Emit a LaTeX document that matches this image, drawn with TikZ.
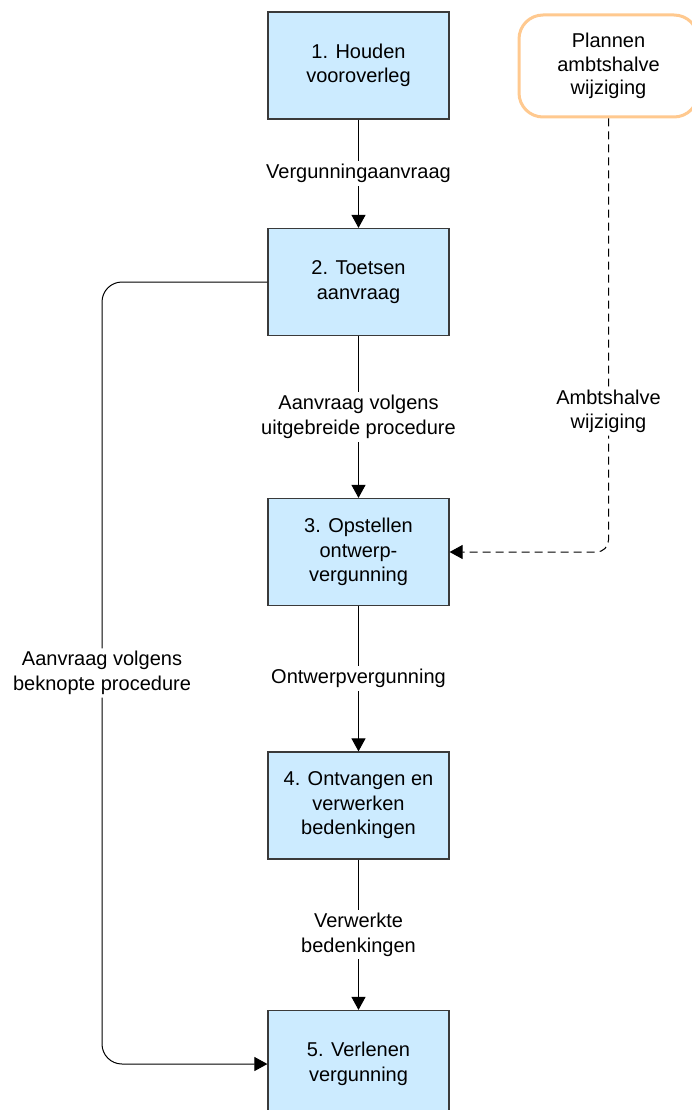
\documentclass[tikz,border=0pt]{standalone}
\usepackage{fontspec}
\setmainfont{Liberation Sans}
\usetikzlibrary{arrows.meta}
\definecolor{stepfill}{HTML}{CCEBFF}
\definecolor{stepline}{HTML}{3A3A3A}
\definecolor{planline}{HTML}{FFC98F}
\tikzset{
  stepbox/.style={draw=stepline, line width=1.2pt, fill=stepfill,
    minimum width=181pt, minimum height=107pt, align=center,
    font=\fontsize{20}{24.5}\selectfont, inner sep=2pt},
  planbox/.style={draw=planline, line width=3pt, fill=white,
    rounded corners=24pt, minimum width=179pt, minimum height=102pt,
    align=center, font=\fontsize{20}{23.5}\selectfont, inner sep=2pt},
  conn/.style={draw=black, line width=1pt,
    -{Triangle[length=13pt,width=14pt]}},
  dashconn/.style={conn, dash pattern=on 8pt off 5pt},
  lbl/.style={fill=white, align=center, inner sep=3pt,
    font=\fontsize{20}{24.5}\selectfont, text=black},
}
\begin{document}
\begin{tikzpicture}[x=1pt,y=-1pt]
  \useasboundingbox (0,0) rectangle (691,1110);

  % process steps
  \node[stepbox] (b1) at (358.5,65.5) {1. Houden\\vooroverleg};
  \node[stepbox] (b2) at (358.5,282) {2. Toetsen\\aanvraag};
  \node[stepbox] (b3) at (358.5,552) {3. Opstellen\\ontwerp-\\vergunning};
  \node[stepbox] (b4) at (358.5,805.5) {4. Ontvangen en\\verwerken\\bedenkingen};
  \node[stepbox] (b5) at (358.5,1064) {5. Verlenen\\vergunning};

  % trigger for an ex officio change
  \node[planbox] (pl) at (608.5,66) {Plannen\\ambtshalve\\wijziging};

  % main flow
  \draw[conn] (b1) -- node[lbl] {Vergunningaanvraag} (b2);
  \draw[conn] (b2) -- node[lbl] {Aanvraag volgens\\uitgebreide procedure} (b3);
  \draw[conn] (b3) -- node[lbl] {Ontwerpvergunning} (b4);
  \draw[conn] (b4) -- node[lbl] {Verwerkte\\bedenkingen} (b5);

  % short procedure bypass on the left
  \coordinate (lx) at (102,0);
  \draw[conn, rounded corners=20pt] (b2.west) -- (b2.west -| lx)
    -- node[lbl] {Aanvraag volgens\\beknopte procedure} (b5.west -| lx)
    -- (b5.west);

  % ex officio change feeding into step 3
  \draw[dashconn, rounded corners=12pt] (pl.south)
    -- node[lbl, pos=0.675] {Ambtshalve\\wijziging} (pl.south |- b3.east)
    -- (b3.east);
\end{tikzpicture}
\end{document}
